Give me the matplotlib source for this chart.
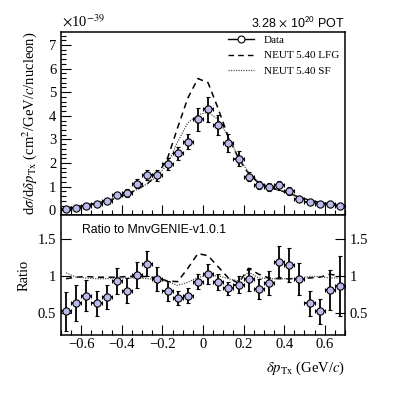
import numpy as np
import matplotlib
matplotlib.use("Agg")
import matplotlib.pyplot as plt
from matplotlib.lines import Line2D
from matplotlib.ticker import MultipleLocator, FixedLocator

plt.rcParams['font.family'] = ['Liberation Serif', 'DejaVu Serif']
plt.rcParams['mathtext.fontset'] = 'stix'

# bin centers (GeV/c)
x_centers = [-0.675, -0.625, -0.575, -0.525, -0.475, -0.425, -0.375, -0.325,
             -0.275, -0.225, -0.175, -0.125, -0.075, -0.025, 0.025, 0.075,
             0.125, 0.175, 0.225, 0.275, 0.325, 0.375, 0.425, 0.475,
             0.525, 0.575, 0.625, 0.675]
half_width = 0.025

# cross section (x 1e-39 cm^2/GeV/c/nucleon)
data_xs = [0.07, 0.10, 0.20, 0.28, 0.38, 0.63, 0.73, 1.13, 1.50, 1.48, 1.97, 2.42,
           2.91, 3.86, 4.28, 3.62, 2.84, 2.18, 1.43, 1.07, 0.97, 1.05, 0.82, 0.49,
           0.35, 0.28, 0.28, 0.20]
data_err = [0.04, 0.05, 0.06, 0.07, 0.09, 0.12, 0.15, 0.18, 0.21, 0.23, 0.25, 0.28,
            0.32, 0.49, 0.53, 0.42, 0.39, 0.32, 0.21, 0.18, 0.17, 0.19, 0.17, 0.11,
            0.09, 0.09, 0.09, 0.09]
lfg_xs = [0.10, 0.15, 0.22, 0.30, 0.40, 0.52, 0.68, 0.88, 1.12, 1.50, 2.20, 3.50,
          4.75, 5.58, 5.40, 4.30, 3.10, 2.20, 1.55, 1.15, 0.98, 0.85, 0.72, 0.55,
          0.43, 0.33, 0.26, 0.20]
sf_xs = [0.10, 0.15, 0.22, 0.30, 0.40, 0.52, 0.68, 0.88, 1.12, 1.45, 1.95, 2.90,
         3.70, 4.05, 4.15, 3.85, 3.10, 2.25, 1.60, 1.20, 0.98, 0.85, 0.70, 0.53,
         0.42, 0.33, 0.26, 0.20]

# ratio to MnvGENIE-v1.0.1
data_ratio = [0.52, 0.635, 0.73, 0.63, 0.71, 0.93, 0.80, 1.01, 1.16, 0.955, 0.80, 0.70,
              0.73, 0.92, 1.02, 0.92, 0.83, 0.88, 0.95, 0.82, 0.90, 1.19, 1.15, 0.955,
              0.63, 0.52, 0.81, 0.86]
ratio_err = [0.26, 0.24, 0.21, 0.17, 0.16, 0.18, 0.17, 0.17, 0.17, 0.16, 0.135, 0.10,
             0.10, 0.10, 0.135, 0.11, 0.09, 0.11, 0.15, 0.14, 0.16, 0.21, 0.23, 0.22,
             0.17, 0.17, 0.27, 0.41]
lfg_ratio = [0.96, 0.98, 0.99, 0.98, 0.98, 0.98, 0.99, 0.99, 0.99, 0.97, 0.93, 0.92,
             1.10, 1.30, 1.27, 1.12, 0.97, 0.90, 1.10, 1.02, 0.97, 0.96, 0.96, 0.96,
             0.97, 0.98, 1.02, 1.00]
sf_ratio = [1.04, 0.98, 0.97, 0.96, 0.96, 0.97, 0.97, 0.97, 0.96, 0.95, 0.92, 0.87,
            0.91, 0.98, 1.00, 1.00, 0.96, 0.93, 1.05, 0.97, 0.96, 0.96, 0.96, 0.97,
            0.99, 0.99, 0.97, 0.97]

W, H = 407, 399
fig = plt.figure(figsize=(W / 100, H / 100), dpi=100)

def fr(l, t, r, b):
    return [l / W, 1 - b / H, (r - l) / W, (b - t) / H]

ax1 = fig.add_axes(fr(61, 32, 345, 215))
ax2 = fig.add_axes(fr(61, 215, 345, 335))

mcol = '#babaec'
ebkw = dict(fmt='o', ms=5.2, mfc=mcol, mec='black', mew=0.8, ecolor='black',
            elinewidth=1.3, capsize=1.6, capthick=1.0, zorder=5)

ax1.plot(x_centers, lfg_xs, ls=(0, (4, 3)), color='black', lw=1.1, zorder=3)
ax1.plot(x_centers, sf_xs, ls=(0, (1, 1)), color='#555555', lw=0.9, zorder=3)
ax1.errorbar(x_centers, data_xs, yerr=data_err, xerr=half_width, **ebkw)

ax2.plot(x_centers, lfg_ratio, ls=(0, (4, 3)), color='black', lw=1.1, zorder=3)
ax2.plot(x_centers, sf_ratio, ls=(0, (1, 1)), color='#555555', lw=0.9, zorder=3)
ax2.errorbar(x_centers, data_ratio, yerr=ratio_err, xerr=half_width, **ebkw)

for ax in (ax1, ax2):
    ax.set_xlim(-0.7, 0.7)
    for s in ax.spines.values():
        s.set_linewidth(1.1)
    ax.xaxis.set_major_locator(MultipleLocator(0.2))
    ax.xaxis.set_minor_locator(MultipleLocator(0.05))
    ax.tick_params(axis='both', which='both', direction='in', labelsize=10.5,
                   width=0.8, top=False)
    ax.tick_params(which='major', length=7)
    ax.tick_params(which='minor', length=3.5)

ax1.set_ylim(-0.2, 7.55)
ax1.yaxis.set_major_locator(MultipleLocator(1))
ax1.yaxis.set_minor_locator(MultipleLocator(0.2))
ax1.tick_params(labelbottom=False, right=False)

ax2.set_ylim(0.2, 1.82)
ax2.yaxis.set_major_locator(FixedLocator([0.5, 1.0, 1.5]))
ax2.yaxis.set_minor_locator(FixedLocator([]))
ax2.set_yticklabels(['0.5', '1', '1.5'])
ax2.tick_params(axis='y', right=True, labelright=True)
ax2.tick_params(axis='x', pad=2.5)
ax2.set_xticks([-0.6, -0.4, -0.2, 0, 0.2, 0.4, 0.6])
ax2.set_xticklabels(['\u22120.6', '\u22120.4', '\u22120.2', '0', '0.2', '0.4', '0.6'])

ax1.set_ylabel(r'd$\sigma$/d$\delta p_{\mathrm{Tx}}$ (cm$^2$/GeV/$c$/nucleon)',
               fontsize=10.5, loc='top', labelpad=7)
ax2.set_ylabel('Ratio', fontsize=10.5, labelpad=5)
ax2.set_xlabel(r'$\delta p_{\mathrm{Tx}}$ (GeV/$c$)', fontsize=10.5, loc='right', labelpad=6)

fig.text(62 / W, 1 - 30 / H, r'$\times$10$^{-39}$', fontsize=10.5, ha='left', va='bottom')
fig.text(345 / W, 1 - 22 / H, r'3.28 $\times$ 10$^{\mathsf{20}}$ POT', fontsize=9,
         family=['Liberation Sans', 'DejaVu Sans'], ha='right', va='center')
ax2.text((82 - 61) / 284, 1 - (230 - 215) / 120, 'Ratio to MnvGENIE-v1.0.1',
         transform=ax2.transAxes, fontsize=8.8, family=['Liberation Sans', 'DejaVu Sans'],
         ha='left', va='center')

handles = [Line2D([], [], color='black', lw=1.0, marker='o', ms=5, mfc='white', mec='black', mew=0.8),
           Line2D([], [], color='black', lw=1.0, ls=(0, (4, 3))),
           Line2D([], [], color='#555555', lw=0.9, ls=(0, (1, 1)))]
labels = ['Data', 'NEUT 5.40 LFG', 'NEUT 5.40 SF']
ax1.legend(handles, labels, loc='upper left', bbox_to_anchor=((228 - 61) / 284, 0.985),
           frameon=False, fontsize=8, handlelength=2.3, handletextpad=0.9,
           labelspacing=0.55, borderpad=0, borderaxespad=0)

fig.savefig('out.png', dpi=100)
